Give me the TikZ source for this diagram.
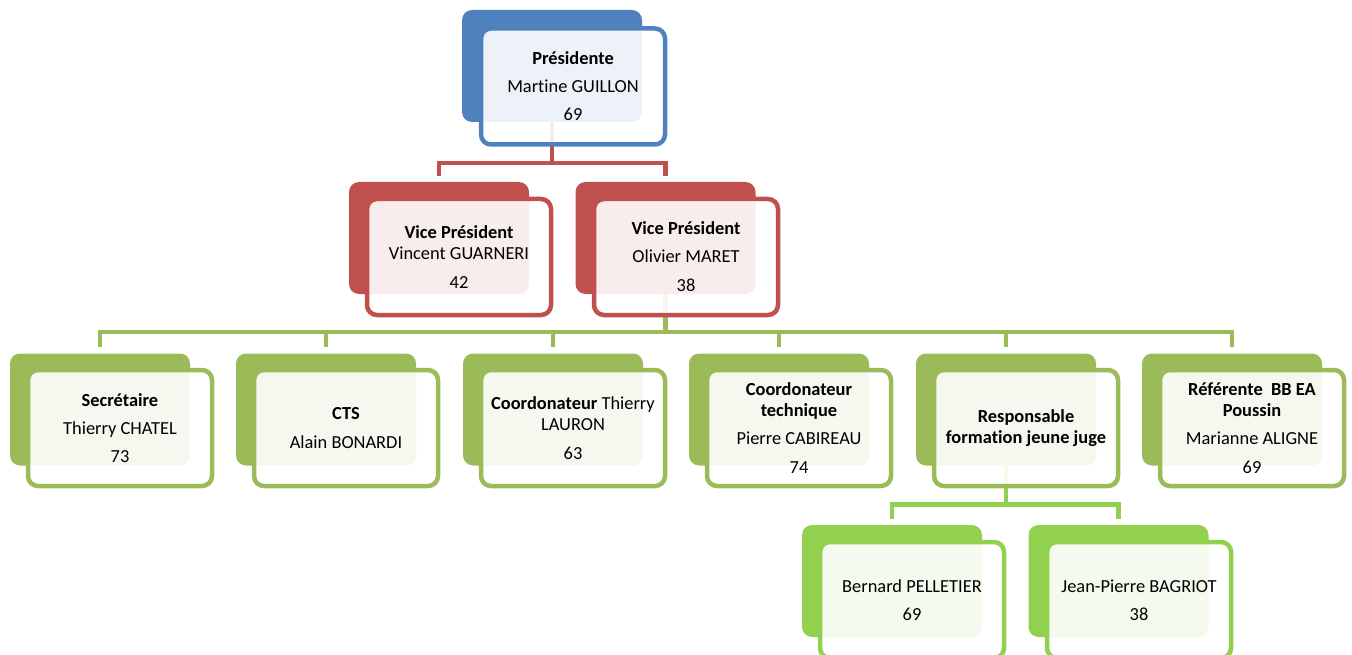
\documentclass[tikz,border=0pt]{standalone}
\usepackage{fontspec}
\setmainfont{Carlito}[Ligatures=NoCommon]

\definecolor{presblue}{HTML}{4F81BD}
\definecolor{vpred}{HTML}{C0504D}
\definecolor{boardgreen}{HTML}{9BBB59}
\definecolor{judgegreen}{HTML}{92D050}

\begin{document}
\begin{tikzpicture}[x=1pt,y=-1pt,
    back/.style={fill=#1, rounded corners=10pt, minimum width=180pt, minimum height=112pt, inner sep=0pt},
    front/.style={draw=#1, line width=4.5pt, fill=white, fill opacity=0.9, text opacity=1,
        rounded corners=10pt, minimum width=184pt, minimum height=116pt, inner sep=0pt,
        align=center, font=\fontsize{18.4}{21}\selectfont},
    link/.style={draw=#1, line width=4.5pt, shorten >=6pt}]
    \clip (0,0) rectangle (1352,655);
    \useasboundingbox (0,0) rectangle (1352,655);

    % back boxes
    \node[back=presblue] (presB) at (552,66) {};
    \node[back=vpred] (vpaB) at (439,238) {};
    \node[back=vpred] (vpbB) at (665.5,238) {};
    \node[back=boardgreen] (secB) at (100,409.5) {};
    \node[back=boardgreen] (ctsB) at (326,409.5) {};
    \node[back=boardgreen] (coordB) at (553,409.5) {};
    \node[back=boardgreen] (techB) at (779,409.5) {};
    \node[back=boardgreen] (jugeB) at (1006,409.5) {};
    \node[back=boardgreen] (refB) at (1232,409.5) {};
    \node[back=judgegreen] (pelB) at (892,581) {};
    \node[back=judgegreen] (bagB) at (1118.5,581) {};

    % connectors
    \draw[link=vpred] (presB.south) -- ++(0,41) -| (vpaB.north);
    \draw[link=vpred] (presB.south) -- ++(0,41) -| (vpbB.north);

    \draw[link=boardgreen] (vpbB.south) -- ++(0,38) -| (secB.north);
    \draw[link=boardgreen] (vpbB.south) -- ++(0,38) -| (ctsB.north);
    \draw[link=boardgreen] (vpbB.south) -- ++(0,38) -| (coordB.north);
    \draw[link=boardgreen] (vpbB.south) -- ++(0,38) -| (techB.north);
    \draw[link=boardgreen] (vpbB.south) -- ++(0,38) -| (jugeB.north);
    \draw[link=boardgreen] (vpbB.south) -- ++(0,38) -| (refB.north);

    \draw[link=judgegreen] (jugeB.south) -- ++(0,39) -| (pelB.north);
    \draw[link=judgegreen] (jugeB.south) -- ++(0,39) -| (bagB.north);

    % front boxes
    \node[front=presblue] (pres) at (573,86.5) {\textbf{Présidente}\\[7pt]Martine GUILLON\\[7pt]69};
    \node[front=vpred] (vpa) at (459,257) {\textbf{Vice Président}\\Vincent GUARNERI\\[8pt]42};
    \node[front=vpred] (vpb) at (686,257) {\textbf{Vice Président}\\[7pt]Olivier MARET\\[8pt]38};
    \node[front=boardgreen] (sec) at (120,428) {\textbf{Secrétaire}\\[7pt]Thierry CHATEL\\[7pt]73};
    \node[front=boardgreen] (cts) at (346,428) {\textbf{CTS}\\[8pt]Alain BONARDI};
    \node[front=boardgreen] (coord) at (573,428) {\textbf{Coordonateur} Thierry\\LAURON\\[8pt]63};
    \node[front=boardgreen] (tech) at (799,428) {\textbf{Coordonateur}\\\textbf{technique}\\[7pt]Pierre CABIREAU\\[8pt]74};
    \node[front=boardgreen] (juge) at (1026,428) {\textbf{Responsable}\\\textbf{formation jeune juge}};
    \node[front=boardgreen] (ref) at (1252,428) {\textbf{Référente\ \ BB EA}\\\textbf{Poussin}\\[7pt]Marianne ALIGNE\\[8pt]69};
    \node[front=judgegreen] (pel) at (912,600) {Bernard PELLETIER\\[7pt]69};
    \node[front=judgegreen] (bag) at (1139,600) {Jean-Pierre BAGRIOT\\[7pt]38};
\end{tikzpicture}
\end{document}
